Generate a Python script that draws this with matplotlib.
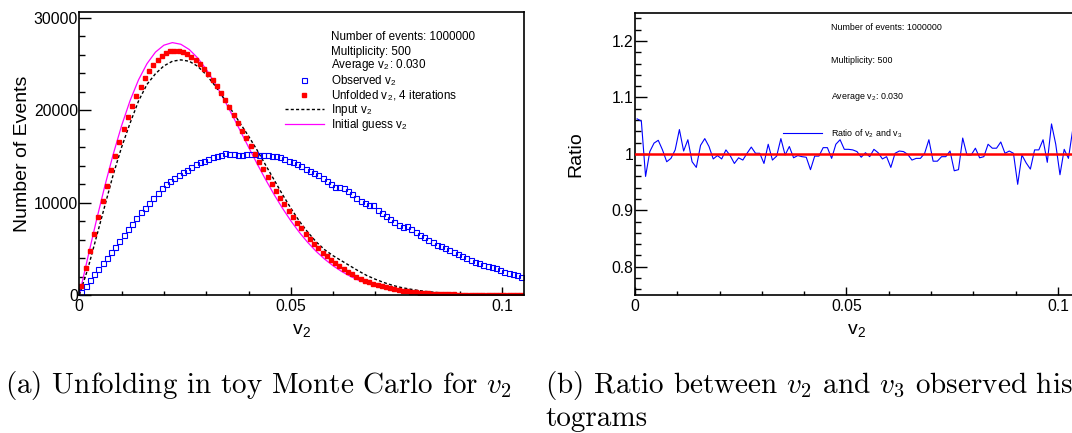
import numpy as np
import matplotlib
matplotlib.use('Agg')
import matplotlib.pyplot as plt
from matplotlib.lines import Line2D
from matplotlib.ticker import MultipleLocator, FuncFormatter

# ROOT-like fonts: Helvetica metrics for the plots, Computer Modern for captions
plt.rcParams['font.family'] = ['Liberation Sans', 'DejaVu Sans']
plt.rcParams['mathtext.fontset'] = 'custom'
plt.rcParams['mathtext.rm'] = 'Liberation Sans'
plt.rcParams['mathtext.it'] = 'cmmi10'
plt.rcParams['mathtext.sf'] = 'cmr10'

# ---------------- data ----------------
bin_width = 0.001
bin_centers = np.arange(105) * bin_width + bin_width / 2

observed = [300, 980, 1630, 2240, 2860, 3430, 4050, 4630, 5240, 5890,
            6540, 7120, 7730, 8350, 8950, 9450, 10000, 10520, 11020, 11530,
            12000, 12360, 12650, 13010, 13260, 13550, 13840, 14130, 14350, 14530,
            14750, 14890, 15000, 15180, 15360, 15210, 15250, 15140, 15140, 15210,
            15290, 15250, 15180, 15140, 15180, 15070, 15000, 14890, 14710, 14530,
            14350, 14130, 13910, 13660, 13440, 13190, 12940, 12650, 12290, 12000,
            11710, 11670, 11560, 11280, 10910, 10550, 10190, 9970, 9760, 9690,
            9180, 8850, 8530, 8240, 7910, 7590, 7340, 7440, 7120, 6790,
            6540, 6250, 5960, 5710, 5420, 5350, 5100, 4880, 4660, 4450,
            4190, 3980, 3790, 3580, 3470, 3250, 3180, 3040, 2890, 2710,
            2530, 2390, 2280, 2130, 1990]

unfolded = [1000, 2900, 4750, 6600, 8400, 10150, 11850, 13500, 15050, 16550,
            17950, 19250, 20450, 21550, 22550, 23450, 24250, 24900, 25450, 25900,
            26200, 26400, 26450, 26400, 26300, 26100, 25800, 25450, 25000, 24500,
            23950, 23300, 22600, 21850, 21100, 20300, 19500, 18650, 17800, 16950,
            16100, 15250, 14400, 13600, 12800, 12000, 11250, 10500, 9800, 9100,
            8450, 7800, 7200, 6600, 6050, 5550, 5050, 4600, 4200, 3800,
            3430, 3100, 2780, 2490, 2220, 1980, 1760, 1560, 1380, 1210,
            1070, 940, 820, 710, 620, 540, 460, 400, 340, 290,
            250, 210, 180, 150, 125, 105, 88, 73, 60, 50,
            41, 34, 28, 23, 18, 15, 12, 10, 8, 6,
            5, 4, 3, 2, 2]

curve_x = np.arange(53) * 0.002

input_v2 = [0, 2800, 6200, 9600, 13000, 16000, 18600, 21000, 22800, 23950,
            24800, 25300, 25450, 25300, 24750, 23850, 22700, 21400, 20000, 18600,
            17200, 15700, 14100, 12500, 10900, 9400, 8000, 6800, 5750, 4900,
            4250, 3700, 3150, 2600, 2100, 1700, 1350, 1050, 820, 650,
            500, 380, 290, 215, 160, 115, 85, 60, 42, 30,
            20, 14, 10]

initial_guess = [0, 4040, 7990, 11740, 15210, 18330, 21040, 23290, 25040, 26290,
                 27040, 27320, 27140, 26570, 25650, 24430, 22970, 21350, 19610, 17820,
                 16010, 14230, 12530, 10910, 9410, 8030, 6790, 5690, 4720, 3880,
                 3160, 2550, 2040, 1610, 1270, 990, 760, 580, 440, 330,
                 250, 180, 130, 96, 69, 49, 35, 24, 17, 11,
                 8, 5, 3]

ratio = [1.062, 1.058, 0.960, 1.004, 1.019, 1.024, 1.007, 0.986, 0.992, 1.007,
         1.043, 1.005, 1.025, 0.986, 0.976, 1.015, 1.027, 1.013, 0.991, 0.997,
         0.991, 1.007, 0.997, 0.983, 0.993, 0.989, 1.001, 1.012, 1.001, 1.001,
         0.983, 1.017, 0.989, 0.996, 1.027, 0.998, 1.013, 0.993, 0.997, 0.995,
         0.994, 0.972, 0.996, 0.996, 1.011, 1.011, 0.992, 1.017, 1.025, 1.008,
         1.008, 1.007, 1.004, 0.994, 1.002, 0.995, 1.008, 1.002, 0.991, 0.995,
         0.976, 1.001, 1.005, 1.004, 0.999, 0.989, 0.992, 0.992, 1.001, 1.025,
         0.987, 0.987, 0.995, 0.995, 1.005, 0.970, 0.972, 1.028, 0.998, 0.998,
         1.010, 0.993, 0.995, 1.017, 1.010, 1.010, 1.021, 1.001, 1.005, 1.001,
         0.946, 0.998, 0.984, 0.973, 1.007, 1.007, 1.025, 0.985, 1.053, 1.017,
         0.963, 1.008, 0.992, 1.042, 1.010]

info_lines = ['Number of events: 1000000', 'Multiplicity: 500', r'Average v$_2$: 0.030']

# ---------------- figure ----------------
W, H = 1072, 433
fig = plt.figure(figsize=(W / 100, H / 100), dpi=100)


def px_axes(left, top, right, bottom):
    return fig.add_axes([left / W, 1 - bottom / H, (right - left) / W, (bottom - top) / H])


def root_style(ax):
    for s in ax.spines.values():
        s.set_linewidth(1.2)
    ax.tick_params(which='both', direction='in', top=False, right=False,
                   labelsize=11.3, width=1.0)
    ax.tick_params(axis='y', which='major', length=8.6, pad=1)
    ax.tick_params(axis='y', which='minor', length=4.3)
    ax.tick_params(axis='x', which='major', length=5.8, pad=3)
    ax.tick_params(axis='x', which='minor', length=2.9)
    ax.xaxis.set_major_locator(MultipleLocator(0.05))
    ax.xaxis.set_minor_locator(MultipleLocator(0.01))
    fmt = FuncFormatter(lambda v, p: f'{v:g}')
    ax.xaxis.set_major_formatter(fmt)
    ax.yaxis.set_major_formatter(fmt)
    ax.set_xlim(0, 0.105)
    ax.set_xlabel(r'v$_2$', fontsize=14, va='center')
    ax.xaxis.set_label_coords(0.5, -0.13)


blank = Line2D([], [], linestyle='none')

# (a) unfolding
ax1 = px_axes(79.3, 12.3, 523.5, 295)
root_style(ax1)
l_init, = ax1.plot(curve_x, initial_guess, '-', color='#ff00ff', lw=0.9)
l_inp, = ax1.plot(curve_x, input_v2, '--', color='black', lw=1.0, dashes=(2.2, 1.6))
m_obs, = ax1.plot(bin_centers, observed, 's', ms=3.6, mfc='none', mec='#0000ff', mew=0.8)
m_unf, = ax1.plot(bin_centers, unfolded, 's', ms=3.1, color='#ff0000', mec='#ff0000')
ax1.set_ylim(0, 30600)
ax1.yaxis.set_major_locator(MultipleLocator(10000))
ax1.yaxis.set_minor_locator(MultipleLocator(2000))
ax1.set_ylabel('Number of Events', fontsize=14, va='center')
ax1.yaxis.set_label_coords(-0.128, 0.5)

# info block of the legend, then the four entries
for txt, base in zip(info_lines, [39.5, 54.5, 68.0]):
    fig.text(331 / W, 1 - base / H, txt, fontsize=8.4, va='baseline')
labels = [r'Observed v$_2$', r'Unfolded v$_2$, 4 iterations',
          r'Input v$_2$', r'Initial guess v$_2$']
ax1.legend([m_obs, m_unf, l_inp, l_init], labels, loc='upper left',
           bbox_to_anchor=(285 / W, 1 - 73.5 / H),
           bbox_transform=fig.transFigure, frameon=False, fontsize=8.4,
           handlelength=3.3, handletextpad=0.66, labelspacing=-0.06,
           borderpad=0, borderaxespad=0, numpoints=1)

# (b) ratio
ax2 = px_axes(635, 12.7, 1079, 295)
root_style(ax2)
r_line, = ax2.plot(bin_centers, ratio, '-', color='#0000ff', lw=0.8)
ax2.axhline(1.0, color='#ff0000', lw=1.8, zorder=3)
ax2.set_ylim(0.75, 1.25)
ax2.yaxis.set_major_locator(MultipleLocator(0.1))
ax2.yaxis.set_minor_locator(MultipleLocator(0.02))
ax2.set_ylabel('Ratio', fontsize=14, va='center')
ax2.yaxis.set_label_coords(-0.133, 0.5)
ax2.legend([blank, blank, blank, r_line], info_lines + [r'Ratio of v$_2$ and v$_3$'],
           loc='upper left', bbox_to_anchor=(783 / W, 1 - 23 / H),
           bbox_transform=fig.transFigure, frameon=False, fontsize=6.4,
           handlelength=4.4, handletextpad=1.0, labelspacing=2.75,
           borderpad=0, borderaxespad=0)

# captions
cap = dict(fontfamily='cmr10', fontsize=21, va='center', ha='left')
fig.text(5 / W, 1 - 386 / H, r'(a) Unfolding in toy Monte Carlo for $v_\mathsf{2}$', **cap)
fig.text(545 / W, 1 - 386 / H, r'(b) Ratio between $v_\mathsf{2}$ and $v_\mathsf{3}$ observed his-', **cap)
fig.text(545 / W, 1 - 419 / H, 'tograms', **cap)

fig.savefig('out.png', dpi=100)
